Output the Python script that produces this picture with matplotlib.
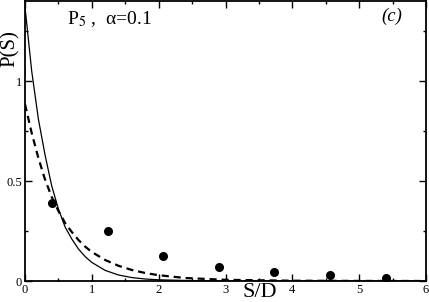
import matplotlib
matplotlib.use('Agg')
import matplotlib.pyplot as plt
from matplotlib.ticker import MultipleLocator

plt.rcParams['font.family'] = ['Liberation Serif', 'DejaVu Serif']
plt.rcParams['mathtext.fontset'] = 'stix'

# simulation points
s_dots = [0.41, 1.24, 2.06, 2.90, 3.73, 4.56, 5.40]
p_dots = [0.388, 0.248, 0.127, 0.072, 0.047, 0.029, 0.017]

# solid curve
s_solid = [0.0, 0.1, 0.2, 0.3, 0.4, 0.5, 0.6, 0.7, 0.8, 0.9, 1.0, 1.2, 1.4,
           1.6, 1.8, 2.0, 2.5, 3.0, 4.0, 6.0]
p_solid = [1.37, 1.05, 0.81, 0.63, 0.475, 0.36, 0.27, 0.21, 0.16, 0.122, 0.093,
           0.053, 0.03, 0.017, 0.01, 0.006, 0.002, 0.0006, 0.0001, 0.0]

# dashed curve
s_dash = [0.0, 0.1, 0.2, 0.3, 0.4, 0.5, 0.6, 0.7, 0.8, 0.9, 1.0, 1.2, 1.4,
          1.6, 1.8, 2.0, 2.4, 3.0, 4.0, 5.0, 6.0]
p_dash = [0.884, 0.74, 0.615, 0.507, 0.42, 0.35, 0.29, 0.245, 0.205, 0.172,
          0.145, 0.105, 0.076, 0.055, 0.04, 0.029, 0.015, 0.006, 0.0015,
          0.0004, 0.0001]

fig = plt.figure(figsize=(4.29, 3.02), dpi=100)
ax = fig.add_axes([0.0583, 0.0695, 0.9347, 0.927])

ax.plot(s_solid, p_solid, color='black', lw=0.9)
ax.plot(s_dash, p_dash, color='black', lw=1.6, dashes=(3.2, 2.2))
ax.plot(s_dots, p_dots, 'o', color='black', markersize=5.5)

ax.set_xlim(0, 6)
ax.set_ylim(0, 1.4)
ax.xaxis.set_major_locator(MultipleLocator(1))
ax.xaxis.set_minor_locator(MultipleLocator(0.5))
ax.yaxis.set_major_locator(MultipleLocator(0.5))
ax.yaxis.set_minor_locator(MultipleLocator(0.25))
ax.yaxis.set_major_formatter(plt.FuncFormatter(lambda v, p: '%g' % v))
ax.tick_params(which='both', direction='in', top=True, right=True,
               labelsize=9, pad=2)
ax.tick_params(which='major', length=5, width=1)
ax.tick_params(which='minor', length=2.5, width=1)
for sp in ax.spines.values():
    sp.set_linewidth(1.3)

ax.text(0.21, 0.935, 'P$_5$ ,  α=0.1', transform=ax.transAxes,
        fontsize=14, ha='center', va='center')
ax.text(0.915, 0.946, '(c)', transform=ax.transAxes, fontsize=13.5,
        style='italic', ha='center', va='center')
fig.text(0.025, 0.84, 'P(S)', rotation=90, fontsize=15, ha='center', va='center')
fig.text(0.606, 0.03, 'S/D', fontsize=16, ha='center', va='center')

fig.savefig('out.png', dpi=100)
